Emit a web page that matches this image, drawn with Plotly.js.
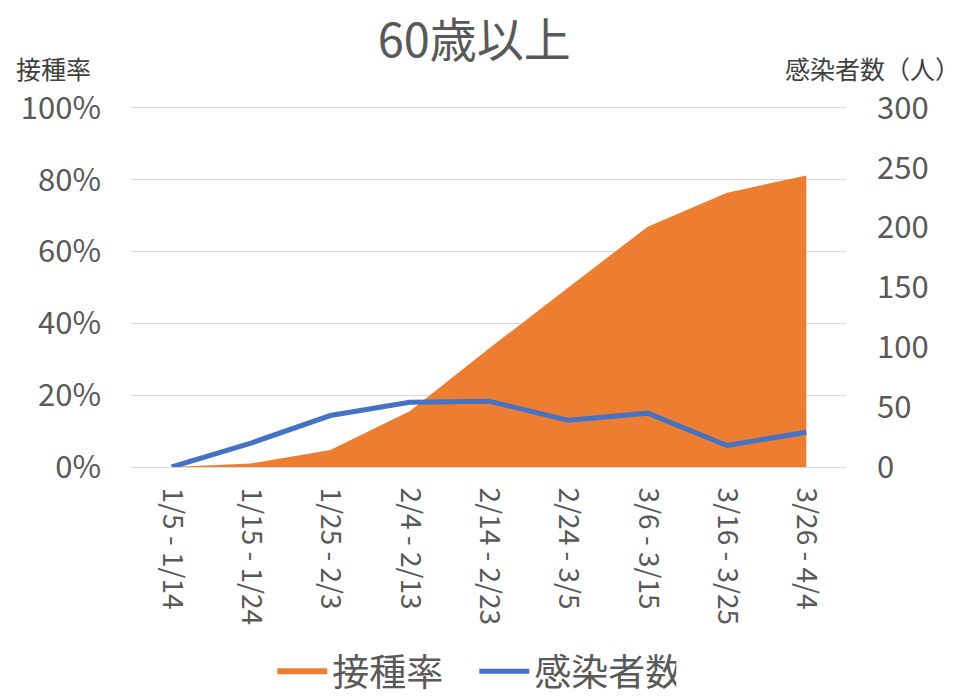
<!DOCTYPE html>
<html>
<head>
<meta charset="utf-8">
<script src="https://cdn.plot.ly/plotly-3.0.1.min.js"></script>
<style>html,body{margin:0;padding:0;background:#fff;}#chart{width:964px;height:696px;}</style>
</head>
<body>
<div id="chart"></div>
<script>
const categories = ["1/5 - 1/14","1/15 - 1/24","1/25 - 2/3","2/4 - 2/13","2/14 - 2/23","2/24 - 3/5","3/6 - 3/15","3/16 - 3/25","3/26 - 4/4"];
const vaccinationRate = [0, 0.01, 0.047, 0.155, 0.33, 0.50, 0.669, 0.764, 0.812];
const infections = [0, 20, 43, 54, 55, 39, 45, 18, 29];
const leftTicks = [0, 0.2, 0.4, 0.6, 0.8, 1.0];
const leftTickText = ["0%","20%","40%","60%","80%","100%"];
const rightTicks = [0, 50, 100, 150, 200, 250, 300];

const FONT = '"Noto Sans CJK JP", "Noto Sans", sans-serif';
const GRAY = '#595959';

const traces = [
  {
    x: categories, y: vaccinationRate, name: '接種率', type: 'scatter', mode: 'none',
    fill: 'tozeroy', fillcolor: '#ED7D31', yaxis: 'y', hoverinfo: 'skip'
  },
  {
    x: categories, y: infections, name: '感染者数', type: 'scatter', mode: 'lines',
    line: {color: '#4472C4', width: 5}, yaxis: 'y2', hoverinfo: 'skip'
  }
];

const layout = {
  width: 964, height: 696,
  margin: {l: 132, r: 118, t: 104, b: 229, autoexpand: false},
  paper_bgcolor: '#fff', plot_bgcolor: '#fff',
  font: {family: FONT, color: GRAY},
  title: {text: '60歳以上', font: {family: FONT, size: 47, color: GRAY}, x: 0.492, xanchor: 'center', y: 0.942, yanchor: 'middle'},
  showlegend: true,
  legend: {orientation: 'h', x: 0.492, xanchor: 'center', xref: 'container', yref: 'container', y: 0.035, yanchor: 'middle', font: {family: FONT, size: 37, color: GRAY}, itemwidth: 50, entrywidth: 137, traceorder: 'normal'},
  xaxis: {
    type: 'category', range: [-0.5, 8.5], tickangle: 90, tickfont: {family: FONT, size: 28, color: GRAY},
    showgrid: false, showline: true, linecolor: '#d9d9d9', linewidth: 1, ticks: '', automargin: false, ticklabelstandoff: 14
  },
  yaxis: {
    range: [0, 1.011], tickvals: leftTicks, ticktext: leftTickText, tickfont: {family: FONT, size: 31, color: GRAY},
    showgrid: true, gridcolor: '#d9d9d9', gridwidth: 1, zeroline: false, ticks: '', ticklabelstandoff: 30, automargin: false
  },
  yaxis2: {
    range: [0, 303.3], tickvals: rightTicks, overlaying: 'y', side: 'right', tickfont: {family: FONT, size: 31, color: GRAY},
    showgrid: false, zeroline: false, ticks: '', ticklabelstandoff: 30, automargin: false
  },
  annotations: [
    {text: '接種率', xref: 'paper', yref: 'paper', x: -0.165, xanchor: 'left', y: 1.1, yanchor: 'middle', showarrow: false, font: {family: FONT, size: 25, color: '#404040'}},
    {text: '感染者数（人）', xref: 'paper', yref: 'paper', x: 1.162, xanchor: 'right', y: 1.1, yanchor: 'middle', showarrow: false, font: {family: FONT, size: 25, color: '#404040'}}
  ]
};

Plotly.newPlot('chart', traces, layout, {displayModeBar: false, staticPlot: true});
</script>
</body>
</html>
